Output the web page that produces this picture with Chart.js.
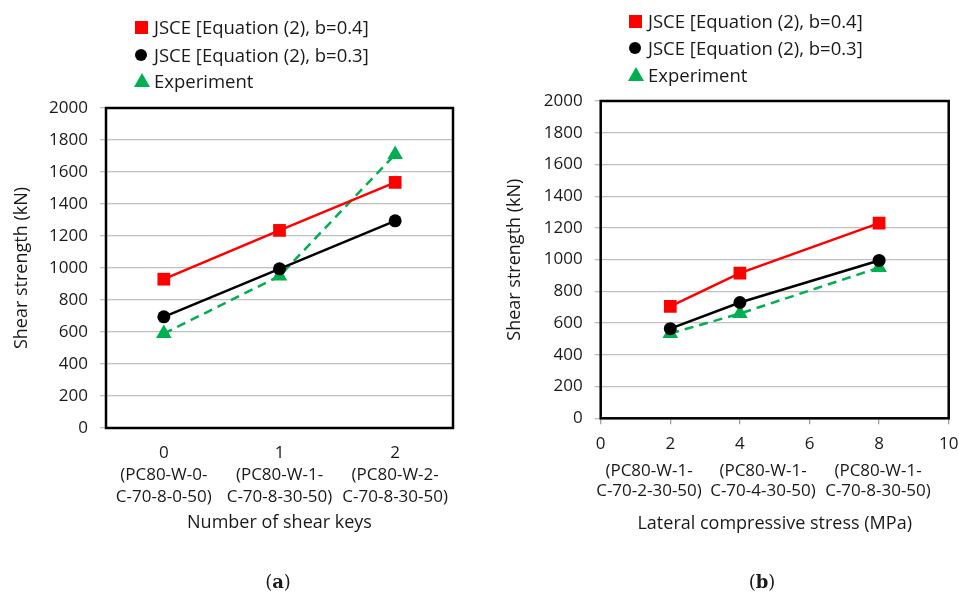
<!DOCTYPE html>
<html>
<head>
<meta charset="utf-8">
<script src="https://cdn.jsdelivr.net/npm/chart.js@4.4.1/dist/chart.umd.min.js"></script>
<style>
  html, body { margin: 0; padding: 0; background: #fff; }
  #page { position: relative; width: 959px; height: 594px; overflow: hidden; font-family: 'Open Sans', sans-serif; color: #1a1a1a; }
  canvas { position: absolute; top: 0; }
  .legend { position: absolute; font-size: 18.5px; }
  .item { position: absolute; left: 0; height: 26px; line-height: 26px; white-space: nowrap; }
  .item span.txt { position: absolute; left: 19px; top: 0; }
  .mk { position: absolute; left: 0; }
  .spec { position: absolute; top: 460px; transform: translateX(-50%); font-size: 17px; line-height: 20px; text-align: center; white-space: nowrap; }
  .panel { position: absolute; transform: translate(-50%, -50%); font-family: 'DejaVu Serif', serif; font-size: 18px; }
</style>
</head>
<body>
<div id="page">
  <canvas id="chartA" width="480" height="594" style="left:0"></canvas>
  <canvas id="chartB" width="479" height="594" style="left:480px"></canvas>
  <div class="legend" id="legendA" style="left:135px; top:0"></div>
  <div class="legend" id="legendB" style="left:629px; top:0"></div>
  <div id="specB"></div>
  <div class="panel" style="left:278px; top:581px">(<b>a</b>)</div>
  <div class="panel" style="left:762px; top:581px">(<b>b</b>)</div>
</div>
<script>
const seriesNames = ['JSCE [Equation (2), b=0.4]', 'JSCE [Equation (2), b=0.3]', 'Experiment'];

// (a) shear keys
const keyCounts = ['0', '1', '2'];
const keySpecimens = [['(PC80-W-0-', 'C-70-8-0-50)'], ['(PC80-W-1-', 'C-70-8-30-50)'], ['(PC80-W-2-', 'C-70-8-30-50)']];
const jsce04Keys = [930, 1235, 1535];
const jsce03Keys = [695, 995, 1295];
const expKeys = [590, 950, 1710];

// (b) lateral compressive stress
const stressValues = [2, 4, 8];
const stressSpecimens = [['(PC80-W-1-', 'C-70-2-30-50)'], ['(PC80-W-1-', 'C-70-4-30-50)'], ['(PC80-W-1-', 'C-70-8-30-50)']];
const jsce04Stress = [705, 915, 1230];
const jsce03Stress = [565, 730, 995];
const expStress = [535, 660, 950];

const strengthTicks = [0, 2000, 200];   // min, max, step
const stressTicks = [0, 10, 2];

const TXT = '#1a1a1a';
const RED = '#ff0000', BLACK = '#000000', GREEN = '#00b050';
const GRID = '#bfbfbf';

Chart.defaults.font.family = "'Open Sans', sans-serif";
Chart.defaults.color = TXT;

// legends (html, stacked like the original)
function buildLegend(id, rows) {
  const box = document.getElementById(id);
  const marks = [
    'width:13px;height:13px;background:' + RED + ';top:6.5px',
    'width:12px;height:12px;border-radius:50%;background:' + BLACK + ';top:7px',
    'width:0;height:0;border-left:8px solid transparent;border-right:8px solid transparent;border-bottom:14px solid ' + GREEN + ';top:5px;left:-1px'
  ];
  seriesNames.forEach((name, i) => {
    const it = document.createElement('div');
    it.className = 'item';
    it.style.top = (rows[i] - 13) + 'px';
    it.innerHTML = '<span class="mk" style="' + marks[i] + '"></span><span class="txt"></span>';
    it.querySelector('.txt').textContent = name;
    box.appendChild(it);
  });
}
buildLegend('legendA', [27, 55, 81]);
buildLegend('legendB', [21, 48, 75]);

// specimen names under (b) were loose text boxes in the original, not centred on the ticks
const specBoxX = [649, 763, 878];
stressSpecimens.forEach((lines, i) => {
  const d = document.createElement('div');
  d.className = 'spec';
  d.style.left = specBoxX[i] + 'px';
  d.innerHTML = lines.map(() => '<div></div>').join('');
  lines.forEach((t, j) => { d.children[j].textContent = t; });
  document.getElementById('specB').appendChild(d);
});

const frame = {
  id: 'frame',
  beforeDatasetsDraw(chart) {
    const { ctx, chartArea: a } = chart;
    ctx.save();
    ctx.strokeStyle = '#000';
    ctx.lineWidth = 2.5;
    ctx.strokeRect(a.left, a.top, a.right - a.left, a.bottom - a.top);
    ctx.restore();
  }
};

function makeSets(red, black, green, xs) {
  const pts = (arr) => xs ? arr.map((v, i) => ({ x: xs[i], y: v })) : arr;
  return [
    { label: seriesNames[0], data: pts(red), borderColor: RED, backgroundColor: RED, borderWidth: 2.5,
      pointStyle: 'rect', pointRadius: 9, pointBorderWidth: 0, order: 0 },
    { label: seriesNames[1], data: pts(black), borderColor: BLACK, backgroundColor: BLACK, borderWidth: 2.5,
      pointStyle: 'circle', pointRadius: 6.5, pointBorderWidth: 0, order: 1 },
    { label: seriesNames[2], data: pts(green), borderColor: GREEN, backgroundColor: GREEN, borderWidth: 2.5,
      borderDash: [9, 6], pointStyle: 'triangle', pointRadius: 9, pointBorderWidth: 0, order: 2 }
  ];
}

function yScale(titlePad, width) {
  return {
    min: strengthTicks[0], max: strengthTicks[1],
    ticks: { stepSize: strengthTicks[2], padding: 12, color: TXT, font: { size: 17 }, callback: (v) => String(v) },
    grid: { color: GRID, lineWidth: 1.3, tickLength: 6, tickColor: GRID },
    border: { display: false },
    title: { display: true, text: 'Shear strength (kN)', color: TXT, font: { size: 18 }, padding: { top: titlePad, bottom: 0 } },
    afterFit(s) { s.width = width; s.paddingTop = 0; s.paddingBottom = 0; }
  };
}

const common = {
  responsive: false,
  animation: false,
  devicePixelRatio: 1,
  plugins: { legend: { display: false }, tooltip: { enabled: false } }
};

new Chart(document.getElementById('chartA'), {
  type: 'line',
  data: {
    labels: keyCounts.map((k, i) => [k, ...keySpecimens[i]]),
    datasets: makeSets(jsce04Keys, jsce03Keys, expKeys)
  },
  options: {
    ...common,
    layout: { padding: { left: 0, top: 108, right: 27, bottom: 54 } },
    scales: {
      x: {
        type: 'category',
        offset: true,
        grid: { display: false },
        border: { display: false },
        ticks: { padding: 6, color: TXT, font: { size: 17, lineHeight: 1.3 }, maxRotation: 0, autoSkip: false },
        title: { display: true, text: 'Number of shear keys', color: TXT, font: { size: 18 }, padding: { top: 0, bottom: 6 } },
        afterFit(s) { s.height = 112; s.paddingLeft = 0; s.paddingRight = 0; }
      },
      y: yScale(11, 106)
    }
  },
  plugins: [frame]
});

new Chart(document.getElementById('chartB'), {
  type: 'line',
  data: {
    datasets: makeSets(jsce04Stress, jsce03Stress, expStress, stressValues)
  },
  options: {
    ...common,
    layout: { padding: { left: 0, top: 101, right: 10.3, bottom: 53.7 } },
    scales: {
      x: {
        type: 'linear',
        min: stressTicks[0], max: stressTicks[1],
        grid: { drawOnChartArea: false, drawTicks: true, tickLength: 6, color: '#a0a0a0', tickColor: '#a0a0a0', lineWidth: 1.3 },
        border: { display: false },
        ticks: { stepSize: stressTicks[2], padding: 9, color: TXT, font: { size: 17, lineHeight: 1.3 }, maxRotation: 0, autoSkip: false },
        title: { display: true, text: 'Lateral compressive stress (MPa)', color: TXT, font: { size: 18 }, padding: { top: 0, bottom: 6 } },
        afterFit(s) { s.height = 122; s.paddingLeft = 0; s.paddingRight = 0; }
      },
      y: yScale(24, 120.7)
    }
  },
  plugins: [frame]
});
</script>
</body>
</html>
